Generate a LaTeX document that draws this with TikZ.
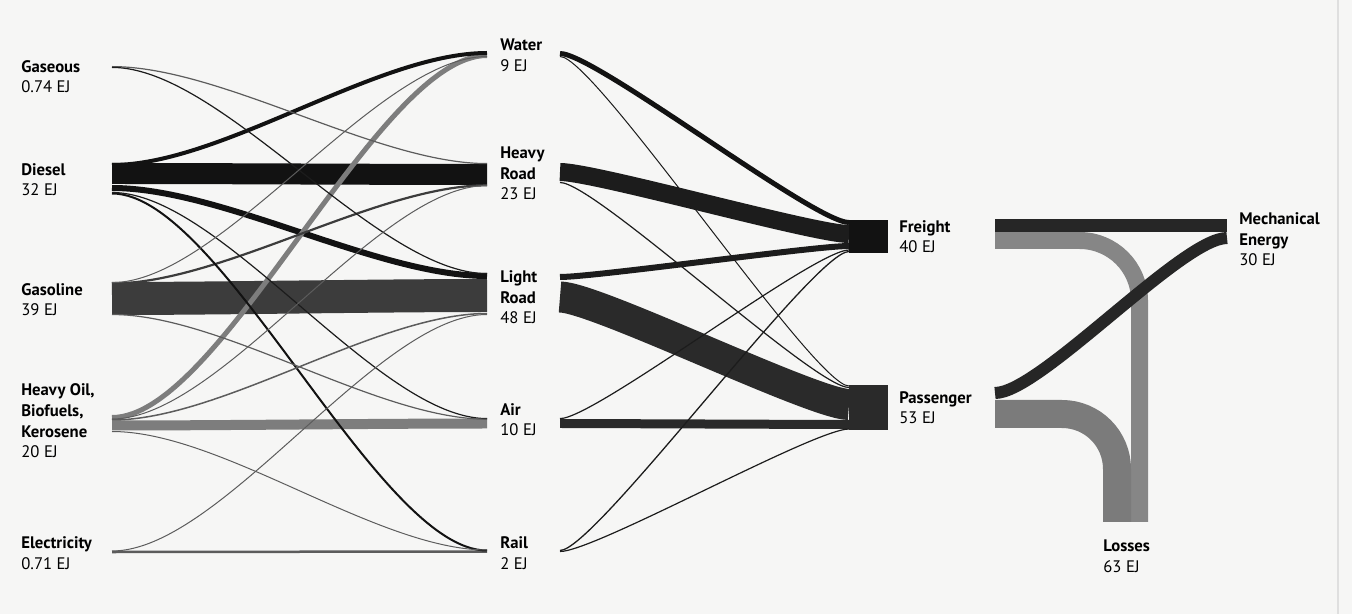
\documentclass[tikz,border=0pt]{standalone}
\usepackage{fontspec}
\setmainfont{PT Sans}
\usepackage{tikz}
\usetikzlibrary{calc}
\newcommand{\SankeyUnit}{0.02cm}
\definecolor{paper}{HTML}{F6F6F5}
\definecolor{dieselc}{HTML}{121212}
\definecolor{gasolc}{HTML}{3C3C3C}
\definecolor{heavyc}{HTML}{7D7D7D}
\definecolor{thinc}{HTML}{5C5C5C}
\definecolor{modec}{HTML}{1C1C1C}
\definecolor{pasc}{HTML}{2A2A2A}
\definecolor{mechc}{HTML}{262626}
\definecolor{lossc}{HTML}{868686}

\begin{document}
\begin{tikzpicture}[
    x=\SankeyUnit, y=-\SankeyUnit,
    flow/.style={line cap=butt, line join=round},
    lbl/.style={anchor=base west, align=left, inner sep=0pt, font=\fontsize{9.5}{11.95}\selectfont},
  ]
  \fill[paper] (0,0) rectangle (1352,614);
  \useasboundingbox (0,0) rectangle (1352,614);
  \draw[gray!25, line width=1.5*\SankeyUnit] (1338,0) -- (1338,614);

  % bar tops, fuels / modes / services / end use
  \coordinate (gasL) at (112,66);
  \coordinate (dslL) at (112,163);
  \coordinate (gslL) at (112,282);
  \coordinate (hvyL) at (112,415);
  \coordinate (eleL) at (112,550);
  \coordinate (watI) at (487,51);
  \coordinate (hrdI) at (487,163);
  \coordinate (lrdI) at (487,273);
  \coordinate (airI) at (487,418);
  \coordinate (raiI) at (487,549);
  \coordinate (watO) at (560,51);
  \coordinate (hrdO) at (560,163);
  \coordinate (lrdO) at (560,274);
  \coordinate (airO) at (560,418);
  \coordinate (raiO) at (560,549);
  \coordinate (frtI) at (849,220);
  \coordinate (psgI) at (849,385);
  \coordinate (frtO) at (995,219);
  \coordinate (psgO) at (995,387);
  \coordinate (mecE) at (1227,219);
  \coordinate (losE) at (1103,522);

  % fuel -> mode
  \foreach \s/\a/\t/\b/\w/\c in {
      dslL/10.5/hrdI/11.5/21/dieselc,
      gslL/16.5/lrdI/22.5/33/gasolc,
      hvyL/10.5/airI/5.5/10/heavyc,
      dslL/25/lrdI/3/6/dieselc,
      hvyL/2.5/watI/4.5/5/heavyc,
      dslL/2/watI/2/4/dieselc,
      eleL/2/raiI/2.5/2.5/thinc,
      gslL/1.5/hrdI/22.3/2.2/gasolc,
      dslL/30.5/raiI/1.5/2/dieselc,
      gasL/0.6/hrdI/0.6/1.2/thinc,
      gasL/1.4/lrdI/0.6/1.2/modec,
      dslL/29.5/airI/0.6/1.2/modec,
      gslL/0.6/watI/5.5/1/thinc,
      gslL/32.5/airI/1.2/1.2/thinc,
      hvyL/4/hrdI/22.5/1/thinc,
      hvyL/5/lrdI/40.5/1.5/thinc,
      hvyL/16.5/raiI/1/1/thinc,
      eleL/1/lrdI/41.5/1/thinc}
    \draw[flow, draw=\c, line width=\w*\SankeyUnit]
      ($(\s)+(0,\a)$) .. controls +(110,0) and +(-110,0) .. ($(\t)+(0,\b)$);

  % mode -> service
  \foreach \s/\a/\t/\b/\w/\c in {
      hrdO/9/frtI/14/18/modec,
      lrdO/23/psgI/19.5/31/pasc,
      airO/5.5/psgI/39.5/9/pasc,
      lrdO/3/frtI/26/6/modec,
      watO/2.5/frtI/2.5/5/dieselc,
      watO/5.5/psgI/1/1/modec,
      hrdO/19.5/psgI/2.5/1.2/modec,
      airO/0.6/frtI/30/1.2/modec,
      raiO/1.5/frtI/31.5/1.3/modec,
      raiO/2.5/psgI/44/1.2/modec}
    \draw[flow, draw=\c, line width=\w*\SankeyUnit]
      ($(\s)+(0,\a)$) .. controls +(35,0) and +(-35,0) .. ($(\t)+(0,\b)$);

  \fill[dieselc] (frtI) rectangle ++(39,33);
  \fill[pasc] (psgI) rectangle ++(39,45);

  % service -> end use
  \draw[flow, draw=lossc, line width=17*\SankeyUnit, rounded corners=1.2cm]
    ($(frtO)+(0,21.5)$) -| ($(losE)+(36.5,0)$);
  \draw[flow, draw=lossc!92!black, line width=28*\SankeyUnit, rounded corners=1.1cm]
    ($(psgO)+(0,27)$) -| ($(losE)+(14,0)$);
  \draw[flow, draw=mechc, line width=13*\SankeyUnit]
    ($(frtO)+(0,6.5)$) -- ($(mecE)+(0,6.5)$);
  \draw[flow, draw=mechc, line width=12*\SankeyUnit]
    ($(psgO)+(0,6)$) .. controls +(45,0) and +(-45,0) .. ($(mecE)+(0,19)$);

  % labels (placed at the baseline of their last line)
  \node[lbl] (gaseous) at (21,93) {\textbf{Gaseous}\\0.74 EJ};
  \node[lbl] (diesel) at (21,196) {\textbf{Diesel}\\32 EJ};
  \node[lbl] (gasoline) at (21,316) {\textbf{Gasoline}\\39 EJ};
  \node[lbl] (heavyoil) at (21,458) {\textbf{Heavy Oil,}\\\textbf{Biofuels,}\\\textbf{Kerosene}\\20 EJ};
  \node[lbl] (electricity) at (21,569) {\textbf{Electricity}\\0.71 EJ};
  \node[lbl] (water) at (500,72) {\textbf{Water}\\9 EJ};
  \node[lbl] (heavyroad) at (500,200) {\textbf{Heavy}\\\textbf{Road}\\23 EJ};
  \node[lbl] (lightroad) at (500,324) {\textbf{Light}\\\textbf{Road}\\48 EJ};
  \node[lbl] (air) at (500,436) {\textbf{Air}\\10 EJ};
  \node[lbl] (rail) at (500,569) {\textbf{Rail}\\2 EJ};
  \node[lbl] (freight) at (899,253) {\textbf{Freight}\\40 EJ};
  \node[lbl] (passenger) at (899,424) {\textbf{Passenger}\\53 EJ};
  \node[lbl] (mechanical) at (1239,266) {\textbf{Mechanical}\\\textbf{Energy}\\30 EJ};
  \node[lbl] (losses) at (1103,572) {\textbf{Losses}\\63 EJ};
\end{tikzpicture}
\end{document}
